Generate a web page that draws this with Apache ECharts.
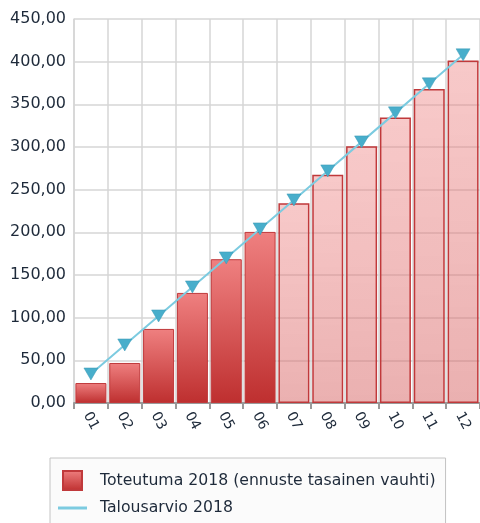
<!DOCTYPE html>
<html>
<head>
<meta charset="utf-8">
<script src="https://cdn.jsdelivr.net/npm/echarts@6/dist/echarts.min.js"></script>
<style>
  html, body { margin: 0; padding: 0; background: #fff; }
  #chart { width: 480px; height: 523px; }
</style>
</head>
<body>
<div id="chart"></div>
<script>
// kuukaudet
const months = ['01', '02', '03', '04', '05', '06', '07', '08', '09', '10', '11', '12'];
// toteutuma + ennuste (tasainen vauhti)
const toteutuma = [23.4, 46.9, 86.8, 129.0, 168.5, 200.5, 234.0, 267.5, 301.0, 334.5, 368.0, 401.5];
const actualMonths = 6; // 01-06 toteutunut, loput ennustetta
const talousarvio = [34, 68, 102, 136, 170, 204, 238, 272, 306, 340, 374, 408];
const yTicks = { min: 0, max: 450, interval: 50 };

const barName = 'Toteutuma 2018 (ennuste tasainen vauhti)';
const lineName = 'Talousarvio 2018';

const darkFill = new echarts.graphic.LinearGradient(0, 0, 0, 1, [
  { offset: 0, color: '#ef8080' },
  { offset: 1, color: '#be2f2f' }
]);
const lightFill = new echarts.graphic.LinearGradient(0, 0, 0, 1, [
  { offset: 0, color: 'rgba(238,132,132,0.44)' },
  { offset: 1, color: 'rgba(214,98,98,0.5)' }
]);

const chart = echarts.init(document.getElementById('chart'));
const font = 'DejaVu Sans';

const option = {
  animation: false,
  grid: {
    left: 74,
    top: 19,
    bottom: 120,
    width: 412
  },
  legend: {
    orient: 'vertical',
    left: 50,
    top: 458,
    height: 90,
    padding: [12, 10, 20, 8],
    backgroundColor: '#fbfbfb',
    borderColor: '#c4c4c4',
    borderWidth: 1,
    itemWidth: 29,
    itemHeight: 19,
    itemGap: 9,
    textStyle: {
      fontFamily: font,
      fontSize: 15.7,
      color: '#1e2a3a',
      padding: [0, 0, 0, 8]
    },
    data: [
      { name: barName, icon: 'path://M0,0h19v19h-19z' },
      { name: lineName, icon: 'path://M0,0h29v3h-29z', itemStyle: { color: '#7ccbe0', borderWidth: 0 } }
    ]
  },
  xAxis: {
    type: 'category',
    data: months,
    axisLine: { lineStyle: { color: '#9a9a9a', width: 2 } },
    axisTick: { show: true, length: 6, lineStyle: { color: '#9a9a9a', width: 2 } },
    splitLine: { show: true, lineStyle: { color: '#d6d6d6', width: 1.5 } },
    axisLabel: {
      rotate: -62,
      margin: 18,
      align: 'center',
      verticalAlign: 'middle',
      fontFamily: font,
      fontSize: 14,
      color: '#1e2a3a'
    }
  },
  yAxis: {
    type: 'value',
    min: yTicks.min,
    max: yTicks.max,
    interval: yTicks.interval,
    axisLine: { show: true, lineStyle: { color: '#d6d6d6', width: 1.5 } },
    axisTick: { show: false },
    splitLine: { lineStyle: { color: '#d6d6d6', width: 1.5 } },
    axisLabel: {
      margin: 8,
      fontFamily: font,
      fontSize: 16,
      color: '#1e2a3a',
      formatter: v => v.toFixed(2).replace('.', ',')
    }
  },
  series: [
    {
      name: barName,
      type: 'bar',
      barWidth: 31,
      itemStyle: { color: darkFill, borderColor: '#c0393b', borderWidth: 1.5 },
      data: toteutuma.map((v, i) => ({
        value: v,
        itemStyle: {
          color: i < actualMonths ? darkFill : lightFill,
          borderColor: '#c0393b',
          borderWidth: i < actualMonths ? 1 : 1.5
        }
      }))
    },
    {
      name: lineName,
      type: 'line',
      z: 5,
      data: talousarvio,
      symbol: 'triangle',
      symbolRotate: 180,
      symbolSize: [14, 12],
      lineStyle: { color: '#7ccbe0', width: 2 },
      itemStyle: { color: '#48aecb', borderColor: '#3a98b4', borderWidth: 0.5 }
    }
  ]
};
chart.setOption(option);
</script>
</body>
</html>
